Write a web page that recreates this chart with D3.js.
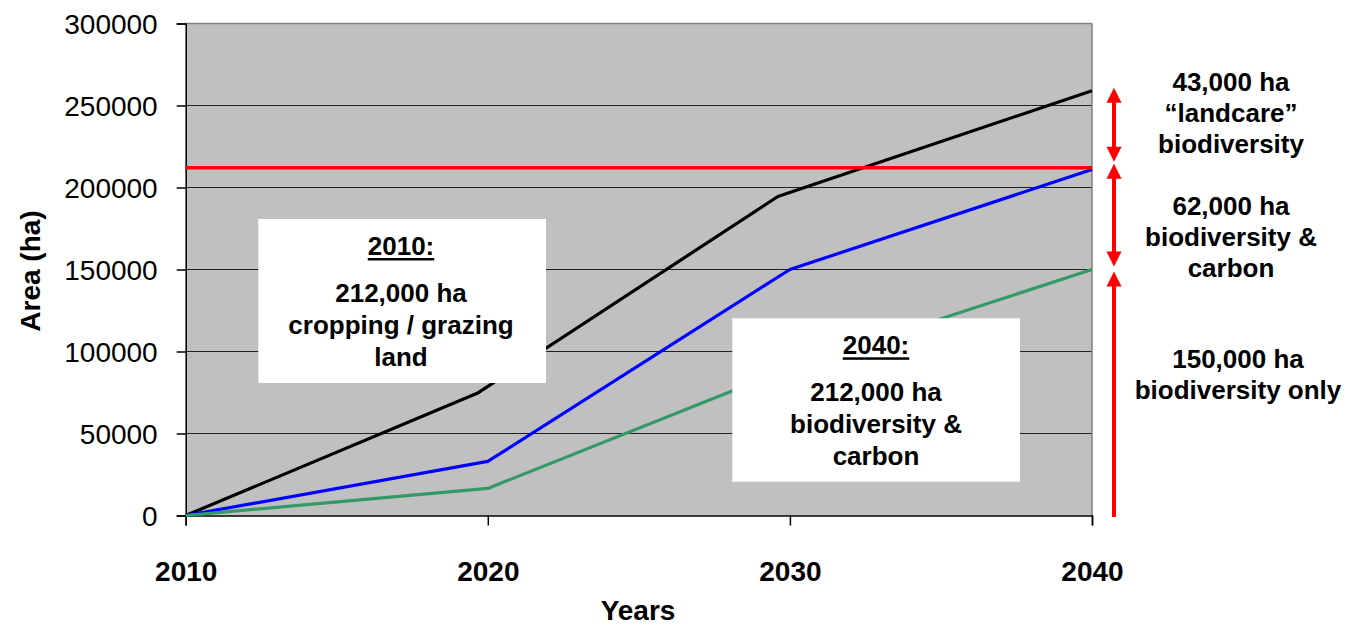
<!DOCTYPE html>
<html>
<head>
<meta charset="utf-8">
<script src="https://cdn.jsdelivr.net/npm/d3@7"></script>
<style>
  html, body { margin: 0; padding: 0; background: #fff; }
  svg { display: block; }
  text { font-family: "Liberation Sans", Arial, sans-serif; fill: #000; }
</style>
</head>
<body>
<svg id="chart" width="1351" height="628"></svg>
<script>
// Land-use transition, area in hectares by year
const years = [2010, 2020, 2030, 2040];
const yTicks = [0, 50000, 100000, 150000, 200000, 250000, 300000];

// Total land transitioned (black) – points sit slightly off the decade marks
const totalYears = [2010, 2019.65, 2029.6, 2040];
const totalArea = [0, 74500, 194500, 259000];
// Biodiversity & carbon plantings (blue)
const carbonArea = [0, 33000, 150000, 211000];
// Biodiversity-only plantings (green)
const biodivArea = [0, 16500, 90000, 150000];
// Existing cropping / grazing land
const farmland = 212000;

// Bracketed segments on the right-hand side (from, to) and their labels
const bracketFrom = [212000, 150000, 0];
const bracketTo = [259000, 212000, 150000];
const bracketLabels = [
  ["43,000 ha", "\u201Clandcare\u201D", "biodiversity"],
  ["62,000 ha", "biodiversity &", "carbon"],
  ["150,000 ha", "biodiversity only"]
];

const box2010 = ["212,000 ha", "cropping / grazing", "land"];
const box2040 = ["212,000 ha", "biodiversity &", "carbon"];

const svg = d3.select("#chart");
const plot = { left: 185.7, right: 1092, top: 23.5, bottom: 515.5 };

const x = d3.scaleLinear().domain([2010, 2040]).range([plot.left, plot.right]);
const y = d3.scaleLinear().domain([0, 300000]).range([plot.bottom, plot.top]);

// plot background
svg.append("rect")
  .attr("x", plot.left).attr("y", plot.top)
  .attr("width", plot.right - plot.left).attr("height", plot.bottom - plot.top)
  .attr("fill", "#c0c0c0");

// horizontal gridlines
svg.append("g").selectAll("line").data(yTicks.filter(d => d > 0 && d < 300000)).join("line")
  .attr("x1", plot.left).attr("x2", plot.right)
  .attr("y1", d => y(d)).attr("y2", d => y(d))
  .attr("stroke", "#222").attr("stroke-width", 1);

// plot border (top & right in grey)
svg.append("line").attr("x1", plot.left).attr("x2", plot.right)
  .attr("y1", plot.top).attr("y2", plot.top).attr("stroke", "#808080").attr("stroke-width", 1.5);
svg.append("line").attr("x1", plot.right).attr("x2", plot.right)
  .attr("y1", plot.top).attr("y2", plot.bottom).attr("stroke", "#808080").attr("stroke-width", 1.5);

// Y axis
const yAxis = svg.append("g").attr("transform", `translate(${plot.left},0)`)
  .call(d3.axisLeft(y).tickValues(yTicks).tickFormat(d3.format("d")).tickSizeOuter(0).tickSize(9).tickPadding(19));
yAxis.select(".domain").attr("stroke", "#000").attr("stroke-width", 1.5);
yAxis.selectAll(".tick line").attr("stroke", "#000").attr("stroke-width", 1.5);
yAxis.selectAll(".tick text")
  .style("font-family", "'Liberation Sans', Arial, sans-serif")
  .style("font-size", "28px").attr("fill", "#000").attr("dy", "0.36em");

// X axis
const xAxis = svg.append("g").attr("transform", `translate(0,${plot.bottom})`)
  .call(d3.axisBottom(x).tickValues(years).tickFormat(d3.format("d")).tickSizeOuter(0).tickSize(10).tickPadding(36));
xAxis.select(".domain").attr("stroke", "#000").attr("stroke-width", 1.5);
xAxis.selectAll(".tick line").attr("stroke", "#000").attr("stroke-width", 1.5);
xAxis.selectAll(".tick text")
  .style("font-family", "'Liberation Sans', Arial, sans-serif")
  .style("font-size", "28px").style("font-weight", "bold").attr("fill", "#000");

// axis titles
svg.append("text").attr("x", 638).attr("y", 620).attr("text-anchor", "middle")
  .style("font-size", "28px").style("font-weight", "bold").text("Years");
svg.append("text").attr("transform", "translate(40,271) rotate(-90)").attr("text-anchor", "middle")
  .style("font-size", "28px").style("font-weight", "bold").text("Area (ha)");

// series
const line = d3.line().x(d => x(d[0])).y(d => y(d[1]));
const series = [
  { pts: totalYears.map((t, i) => [t, totalArea[i]]), color: "#000000" },
  { pts: years.map((t, i) => [t, carbonArea[i]]), color: "#0000ff" },
  { pts: years.map((t, i) => [t, biodivArea[i]]), color: "#339966" }
];
svg.append("g").selectAll("path").data(series).join("path")
  .attr("d", d => line(d.pts))
  .attr("fill", "none").attr("stroke", d => d.color).attr("stroke-width", 3.2)
  .attr("stroke-linejoin", "round");

// farmland level
svg.append("line")
  .attr("x1", plot.left).attr("x2", plot.right)
  .attr("y1", y(farmland)).attr("y2", y(farmland))
  .attr("stroke", "#ff0000").attr("stroke-width", 3.5);

// annotation boxes
function textBox(x0, y0, w, h, title, lines, cx) {
  const g = svg.append("g");
  g.append("rect").attr("x", x0).attr("y", y0).attr("width", w).attr("height", h).attr("fill", "#fff");
  const t = g.append("text").attr("x", cx).attr("y", y0 + 36).attr("text-anchor", "middle")
    .style("font-size", "26px").style("font-weight", "bold").text(title);
  const tw = t.node().getComputedTextLength();
  g.append("rect").attr("x", cx - tw / 2).attr("y", y0 + 39).attr("width", tw).attr("height", 2.5).attr("fill", "#000");
  lines.forEach((s, i) => {
    g.append("text").attr("x", cx).attr("y", y0 + 83 + i * 32).attr("text-anchor", "middle")
      .style("font-size", "26px").style("font-weight", "bold").text(s);
  });
}
textBox(258.3, 219, 287.7, 164, "2010:", box2010, 401);
textBox(732.3, 318.3, 287.7, 163.4, "2040:", box2040, 876);

// bracket arrows on the right
const ax = 1114;
const arrowHeadW = 15, arrowHeadL = 15;
const arrows = svg.append("g");
bracketFrom.forEach((from, i) => {
  const topTip = i === 2 ? y(bracketTo[i]) + 2 : y(bracketTo[i]) - (i === 0 ? 3 : 4);
  const botTip = from === 0 ? y(0) + 1.5 : y(from) - (i === 0 ? 6 : 3);
  arrows.append("line").attr("x1", ax).attr("x2", ax)
    .attr("y1", topTip + arrowHeadL - 2).attr("y2", from === 0 ? botTip : botTip - arrowHeadL + 2)
    .attr("stroke", "#ff0000").attr("stroke-width", 4);
  arrows.append("path")
    .attr("d", `M${ax},${topTip} L${ax + arrowHeadW / 2},${topTip + arrowHeadL} L${ax - arrowHeadW / 2},${topTip + arrowHeadL} Z`)
    .attr("fill", "#ff0000");
  if (from !== 0) {
    arrows.append("path")
      .attr("d", `M${ax},${botTip} L${ax + arrowHeadW / 2},${botTip - arrowHeadL} L${ax - arrowHeadW / 2},${botTip - arrowHeadL} Z`)
      .attr("fill", "#ff0000");
  }
});

// bracket labels
const labelPos = [{ cx: 1231, y0: 90.7 }, { cx: 1231, y0: 215 }, { cx: 1238, y0: 368.3 }];
bracketLabels.forEach((lines, i) => {
  lines.forEach((s, j) => {
    svg.append("text").attr("x", labelPos[i].cx).attr("y", labelPos[i].y0 + j * 31)
      .attr("text-anchor", "middle")
      .style("font-size", "26px").style("font-weight", "bold").text(s);
  });
});
</script>
</body>
</html>
